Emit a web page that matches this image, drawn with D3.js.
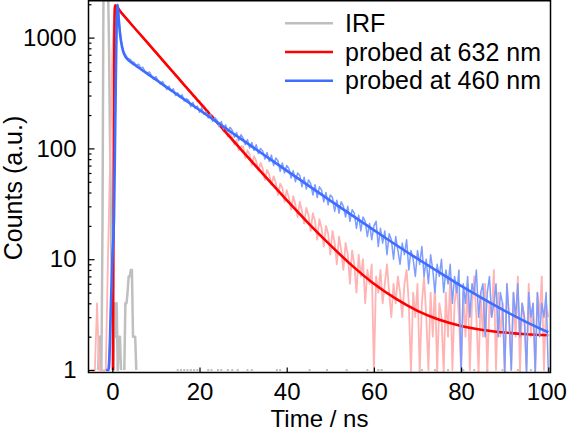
<!DOCTYPE html>
<html>
<head>
<meta charset="utf-8">
<script src="https://cdn.jsdelivr.net/npm/d3@7"></script>
<style>
  body { margin: 0; background: #fff; }
  svg { display: block; font-family: "Liberation Sans", Arial, sans-serif; }
</style>
</head>
<body>
<div id="plot-container"></div>
<script>
// Raw decay traces, sampled every 0.5 ns starting at -5 ns (rows of 5 ns)
const rawStart = -5;
const rawStep = 0.5;

const red632Raw = [
  1, 1, 1, 4, 1, 1, 1, 1, 10, 80,
  700, 1930, 1885, 1770, 1700, 1595, 1530, 1435, 1380, 1290,
  1245, 1165, 1120, 1050, 1010, 945, 912, 850, 822, 766,
  745, 690, 668, 620, 604, 558, 545, 503, 492, 452,
  447, 405, 400, 368, 360, 330, 326, 296, 295, 266,
  268, 240, 244, 215, 219, 193, 198, 176, 177, 158,
  160, 142, 151, 128, 138, 125, 108, 119, 96, 104,
  104, 82, 96, 88, 71, 85, 77, 63, 74, 66,
  52, 64, 58, 47, 56, 49, 38, 48, 44, 33,
  42, 36, 28, 37, 31, 24, 33, 27, 21, 29,
  25, 18, 26, 22, 15, 23, 19, 13, 20, 17,
  11, 18, 14, 9, 16, 12, 8, 14, 11, 6,
  12, 9, 5, 11, 7, 10, 4, 8, 6, 9,
  0, 7, 5, 8, 4, 6, 9, 5, 3, 6,
  4, 7, 5, 3, 6, 8, 4, 0, 5, 3,
  6, 0, 4, 7, 3, 1, 5, 2, 6, 0,
  4, 3, 0, 5, 2, 7, 1, 4, 6, 3,
  0, 5, 2, 6, 1, 4, 7, 3, 0, 5,
  2, 6, 0, 4, 3, 8, 1, 5, 2, 4,
  0, 6, 3, 1, 5, 2, 7, 0, 4, 3,
  1, 6, 2, 4, 0, 5, 3, 7, 1, 4,
  3
];

const blue460Raw = [
  null, null, null, null, null, null, null, 1, 1, 2,
  9, 60, 1450, 1480, 960, 770, 700, 655, 640, 610,
  598, 560, 575, 530, 540, 495, 480, 490, 452, 420,
  445, 410, 380, 402, 372, 340, 365, 328, 345, 300,
  318, 290, 305, 268, 280, 272, 238, 260, 229, 241,
  212, 232, 203, 214, 188, 205, 176, 190, 180, 158,
  175, 150, 163, 140, 155, 146, 126, 139, 118, 133,
  124, 108, 120, 101, 113, 96, 108, 90, 100, 95,
  80, 92, 76, 87, 70, 82, 77, 62, 74, 60,
  70, 66, 54, 63, 50, 60, 57, 45, 55, 43,
  52, 48, 38, 47, 36, 45, 42, 33, 40, 31,
  38, 36, 27, 34, 26, 33, 30, 24, 30, 22,
  28, 26, 19, 25, 18, 24, 22, 16, 21, 15,
  20, 22, 13, 19, 14, 18, 11, 17, 15, 10,
  16, 12, 9, 14, 11, 15, 8, 12, 10, 7,
  12, 9, 13, 7, 10, 6, 11, 8, 5, 9,
  7, 10, 5, 8, 6, 9, 4, 7, 5, 8,
  0, 6, 4, 7, 3, 6, 5, 8, 3, 5,
  6, 2, 5, 7, 3, 4, 6, 2, 5, 4,
  0, 6, 3, 1, 5, 3, 6, 2, 4, 3,
  0, 5, 3, 4, 0, 5, 2, 4, 3, 5,
  0
];

// Instrument response function
const irfTime = [-3.5, -3.25, -3, -2.75, -2.5, -2.25, -2, -1.75, -1.5, -1.25, -1, -0.75, -0.5, -0.25,
  0, 0.25, 0.5, 0.75, 1, 1.25, 1.5, 1.75, 2, 2.25, 2.5, 2.75, 3, 3.25, 3.5, 3.75, 4, 4.25, 4.5,
  4.75, 5, 5.25, 5.5, 5.75];
const irfCounts = [0, 1, 2, 2, 1, 20, 5000, 9000, 9000, 8000, 3500, 800, 100, 12,
  4, 1, 4, 2, 4, 1, 2, 2, 1, 0, 0, 1, 4, 4, 5, 7, 7, 8, 8,
  2, 2, 2, 1, 0];
// isolated single counts of the IRF further out
const irfSingleTime = [15, 15.75, 16.5, 17.25, 18, 18.75, 19.5, 22, 22.75, 24.25, 25, 26.5, 27.5,
  28.75, 31, 32, 37.75, 38.5, 45.25, 49.25, 53.75, 58.5, 61, 61.75, 71, 74, 77, 80.5, 83, 86,
  89.5, 93, 96];

// Fits
const redFitTime = [0.15, 0.6, 2, 5, 10, 15, 20, 25, 30, 35, 40, 45, 50, 55, 60, 65, 70, 75, 80, 85, 90, 95, 100];
const redFitValue = [1, 1952, 1687, 1233, 735, 437, 260, 155.5, 93.2, 56.2, 34.2, 21.1, 13.4, 8.75,
  6.0, 4.4, 3.42, 2.84, 2.50, 2.30, 2.18, 2.10, 2.06];
const blueFitTime = [-1.4, -0.8, -0.4, 0, 0.4, 0.7, 1.0, 1.25, 1.5, 1.75, 2, 2.5, 3, 3.5, 4, 5, 6, 8,
  10, 12, 15, 20, 25, 30, 35, 40, 45, 50, 55, 60, 65, 70, 75, 80, 85, 90, 95, 100];
const blueFitValue = [1, 1, 3, 10, 25, 200, 1400, 1980, 1431, 1110, 927, 747, 674, 637, 611, 572, 537,
  473, 417, 367, 304, 222, 162, 118, 86.2, 63.0, 46.2, 33.8, 24.9, 18.3, 13.5, 10.1, 7.6, 5.74,
  4.40, 3.42, 2.71, 2.19];

// Axis ticks and legend
const xTicks = [0, 20, 40, 60, 80, 100];
const yTicks = [1, 10, 100, 1000];
const yMinorTicks = [2, 3, 4, 5, 6, 7, 8, 9, 20, 30, 40, 50, 60, 70, 80, 90,
  200, 300, 400, 500, 600, 700, 800, 900, 2000];
const legendLabels = ["IRF", "probed at 632 nm", "probed at 460 nm"];
const legendColors = ["#bfbfbf", "#ff0000", "#3f6dff"];

const W = 568, H = 431;
const plot = { left: 88.5, right: 550.5, top: 0.75, bottom: 372.5 };

const svg = d3.select("#plot-container")
    .append("svg")
    .attr("width", W)
    .attr("height", H);

const x = d3.scaleLinear().domain([-5.46, 100.5]).range([plot.left, plot.right]);
const y = d3.scaleLog().domain([0.95, 2150]).range([plot.bottom, plot.top]);
const yMin = 0.95;

svg.append("clipPath").attr("id", "clip")
    .append("rect")
    .attr("x", plot.left).attr("y", plot.top)
    .attr("width", plot.right - plot.left).attr("height", plot.bottom - plot.top);

const g = svg.append("g").attr("clip-path", "url(#clip)");

const rawPoints = arr => arr.map((v, i) => [rawStart + i * rawStep, v]);
const pairs = (ts, vs) => ts.map((t, i) => [t, vs[i]]);

const rawLine = d3.line()
    .defined(d => d[1] !== null)
    .x(d => x(d[0]))
    .y(d => y(Math.max(d[1], yMin)));

const fitLine = d3.line()
    .x(d => x(d[0]))
    .y(d => y(Math.max(d[1], yMin)))
    .curve(d3.curveMonotoneX);

// IRF (zeros are not drawn on the log scale)
const irfLine = d3.line()
    .defined(d => d[1] > 0)
    .x(d => x(d[0]))
    .y(d => y(d[1]));

g.append("path")
    .datum(pairs(irfTime, irfCounts))
    .attr("d", irfLine)
    .attr("fill", "none")
    .attr("stroke", "#bfbfbf")
    .attr("stroke-width", 2.5)
    .attr("stroke-linejoin", "round");

g.selectAll(".irf-dot")
    .data(irfSingleTime)
    .enter()
    .append("rect")
    .attr("class", "irf-dot")
    .attr("x", d => x(d) - 1)
    .attr("y", y(1) - 1)
    .attr("width", 2)
    .attr("height", 2)
    .attr("fill", "#bfbfbf");

g.append("path")
    .datum(rawPoints(red632Raw))
    .attr("d", rawLine)
    .attr("fill", "none")
    .attr("stroke", "#ffb3b3")
    .attr("stroke-width", 1.8)
    .attr("stroke-linejoin", "round");

g.append("path")
    .datum(pairs(redFitTime, redFitValue))
    .attr("d", fitLine)
    .attr("fill", "none")
    .attr("stroke", "#ff0000")
    .attr("stroke-width", 2.6);

g.append("path")
    .datum(rawPoints(blue460Raw))
    .attr("d", rawLine)
    .attr("fill", "none")
    .attr("stroke", "#7d9dff")
    .attr("stroke-width", 1.5)
    .attr("stroke-linejoin", "round");

g.append("path")
    .datum(pairs(blueFitTime, blueFitValue))
    .attr("d", fitLine)
    .attr("fill", "none")
    .attr("stroke", "#3f6dff")
    .attr("stroke-width", 2.6);

// Axes with inward ticks
const axisFont = g => g.selectAll("text")
    .style("font-size", "24px")
    .style("font-family", "'Liberation Sans', Arial, sans-serif")
    .attr("fill", "#000");

svg.append("g")
    .attr("transform", `translate(${plot.left},0)`)
    .call(d3.axisLeft(y).tickValues(yTicks).tickFormat(d3.format("d")).tickSize(-6).tickPadding(12))
    .call(g => g.select(".domain").remove())
    .call(axisFont);

svg.append("g")
    .attr("transform", `translate(${plot.left},0)`)
    .call(d3.axisLeft(y).tickValues(yMinorTicks).tickFormat("").tickSize(-3))
    .call(g => g.select(".domain").remove());

svg.append("g")
    .attr("transform", `translate(0,${plot.bottom})`)
    .call(d3.axisBottom(x).tickValues(xTicks).tickSize(-5).tickPadding(10))
    .call(g => g.select(".domain").remove())
    .call(axisFont)
    .call(g => g.selectAll(".tick text").filter(d => d === 100).attr("dx", -2));

svg.selectAll(".tick line").attr("stroke", "#000").attr("stroke-width", 1.2);

// Frame
svg.append("rect")
    .attr("x", plot.left).attr("y", plot.top)
    .attr("width", plot.right - plot.left).attr("height", plot.bottom - plot.top)
    .attr("fill", "none")
    .attr("stroke", "#000")
    .attr("stroke-width", 1.5);

// Axis labels
svg.append("text")
    .attr("x", (plot.left + plot.right) / 2)
    .attr("y", 426.5)
    .attr("text-anchor", "middle")
    .style("font-size", "24px")
    .text("Time / ns");

svg.append("text")
    .attr("transform", "rotate(-90)")
    .attr("x", -188)
    .attr("y", 22)
    .attr("text-anchor", "middle")
    .style("font-size", "25px")
    .text("Counts (a.u.)");

// Legend
const legend = svg.append("g");
legendLabels.forEach((label, i) => {
    const ly = 23.3 + i * 28.7;
    legend.append("line")
        .attr("x1", 285).attr("x2", 333)
        .attr("y1", ly).attr("y2", ly)
        .attr("stroke", legendColors[i])
        .attr("stroke-width", 2.6);
    legend.append("text")
        .attr("x", 345)
        .attr("y", ly + 8.5)
        .style("font-size", "25px")
        .text(label);
});
</script>
</body>
</html>
